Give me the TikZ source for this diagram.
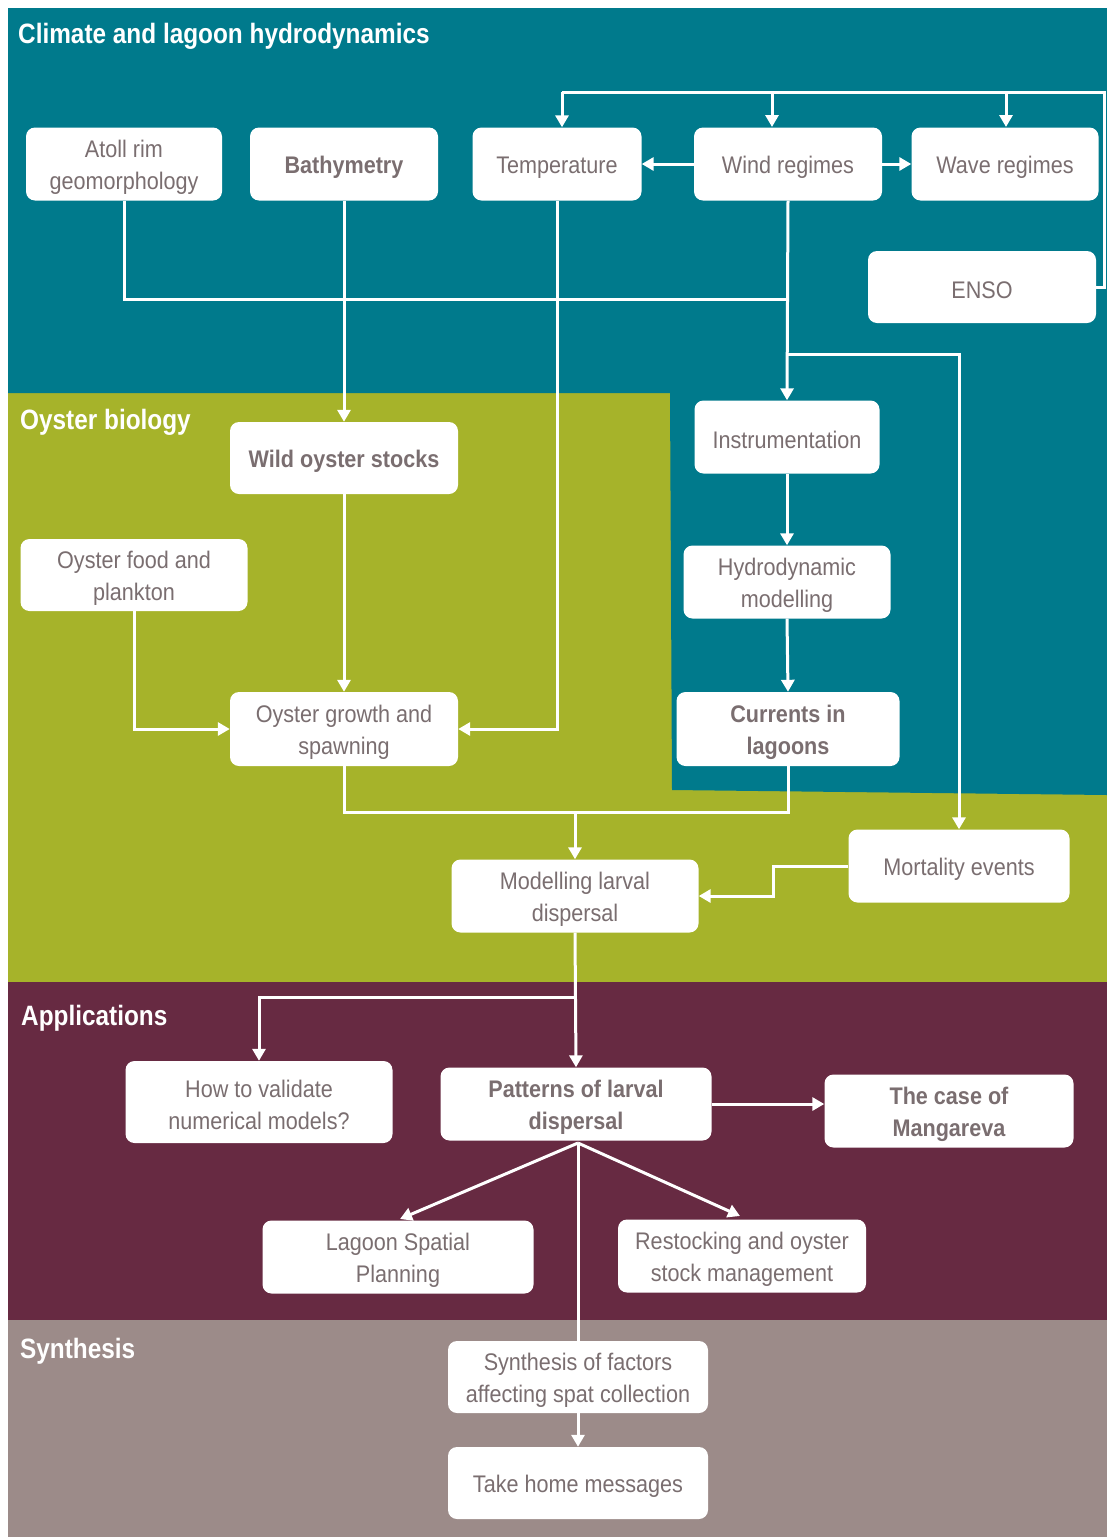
\documentclass[tikz,border=0pt]{standalone}
\usepackage{fontspec}
\setmainfont{Liberation Sans}
\newfontfamily\boxfont[FakeStretch=0.9]{Liberation Sans}
\newfontfamily\titlefont[FakeStretch=0.87]{Liberation Sans}
\usetikzlibrary{arrows.meta}
\definecolor{teal}{RGB}{0,122,140}
\definecolor{olive}{RGB}{166,179,42}
\definecolor{maroon}{RGB}{103,42,66}
\definecolor{greyb}{RGB}{156,139,137}
\definecolor{txtgrey}{RGB}{122,110,112}
\newcommand{\tstr}{\rule{0pt}{23.5pt}}
\tikzset{
  box/.style={draw=none, fill=white, rounded corners=9pt, align=center,
    text=txtgrey, font=\boxfont\fontsize{24}{32}\selectfont, inner sep=0pt},
  bbox/.style={box, font=\boxfont\bfseries\fontsize{24}{32}\selectfont},
  link/.style={draw=white, line width=3pt},
  arr/.style={link, -{Triangle[length=12pt,width=13pt]}},
  ttl/.style={anchor=west, text=white, font=\titlefont\bfseries\fontsize{28}{32}\selectfont, inner sep=0pt}
}
\begin{document}
\begin{tikzpicture}[x=1pt,y=-1pt]
\useasboundingbox (0,0) rectangle (1107,1537);
\fill[white] (0,0) rectangle (1107,1537);
% regions
\fill[olive] (8,393) rectangle (1107,983);
\fill[teal] (8,8) -- (1107,8) -- (1107,795) -- (672,790) -- (670,393) -- (8,393) -- cycle;
\fill[maroon] (8,982) rectangle (1107,1320);
\fill[greyb] (8,1320) rectangle (1107,1537);
% titles
\node[ttl] (t1) at (18,36) {Climate and lagoon hydrodynamics};
\node[ttl] (t2) at (20,422) {Oyster biology};
\node[ttl] (t3) at (21,1018) {Applications};
\node[ttl] (t4) at (20,1351) {Synthesis};
% nodes
\node[box, minimum width=196pt, minimum height=73pt] (atoll) at (124,164) {\tstr Atoll rim\\geomorphology};
\node[bbox, minimum width=188pt, minimum height=73pt] (bathy) at (344,164) {\tstr Bathymetry};
\node[box, minimum width=169pt, minimum height=73pt] (temp) at (557,164) {\tstr Temperature};
\node[box, minimum width=188pt, minimum height=73pt] (wind) at (788,164) {\tstr Wind regimes};
\node[box, minimum width=187pt, minimum height=73pt] (wave) at (1005,164) {\tstr Wave regimes};
\node[box, minimum width=228pt, minimum height=72pt] (enso) at (982,287) {\tstr ENSO};
\node[bbox, minimum width=228pt, minimum height=72pt] (wild) at (344,458) {\tstr Wild oyster stocks};
\node[box, minimum width=185pt, minimum height=73pt] (instr) at (787,437) {\tstr Instrumentation};
\node[box, minimum width=227pt, minimum height=72pt] (food) at (134,575) {\tstr Oyster food and\\plankton};
\node[box, minimum width=207pt, minimum height=73pt] (hydro) at (787,582) {\tstr Hydrodynamic\\modelling};
\node[box, minimum width=228pt, minimum height=74pt] (growth) at (344,729) {\tstr Oyster growth and\\spawning};
\node[bbox, minimum width=223pt, minimum height=74pt] (curr) at (788,729) {\tstr Currents in\\lagoons};
\node[box, minimum width=221pt, minimum height=73pt] (mort) at (959,866) {\tstr Mortality events};
\node[box, minimum width=247pt, minimum height=73pt] (model) at (575,896) {\tstr Modelling larval\\dispersal};
\node[box, minimum width=267pt, minimum height=82pt] (valid) at (259,1102) {\tstr How to validate\\numerical models?};
\node[bbox, minimum width=271pt, minimum height=73pt] (patt) at (576,1104) {\tstr Patterns of larval\\dispersal};
\node[bbox, minimum width=249pt, minimum height=73pt] (mang) at (949,1111) {\tstr The case of\\Mangareva};
\node[box, minimum width=271pt, minimum height=73pt] (lsp) at (398,1257) {\tstr Lagoon Spatial\\Planning};
\node[box, minimum width=248pt, minimum height=73pt] (rest) at (742,1256) {\tstr Restocking and oyster\\stock management};
\node[box, minimum width=260pt, minimum height=72pt] (synth) at (578,1377) {\tstr Synthesis of factors\\affecting spat collection};
\node[box, minimum width=260pt, minimum height=72pt] (take) at (578,1483) {\tstr Take home messages};
% coordinates
\coordinate (ctr) at (1104,92);
\coordinate (ctl) at (562,92);
\coordinate (j1) at (788,299);
\coordinate (j2) at (788,354);
\coordinate (jm) at (575,812);
\coordinate (jv) at (575,997);
\coordinate (pb) at (578,1143);
% connectors
\draw[link] (enso.east) -- (ctr |- enso.east) -- (ctr) -- (ctl);
\draw[arr] (ctl) -- (ctl |- temp.north);
\draw[arr] (772,92) -- (772,127);
\draw[arr] (1006,93) -- (1006,127);
\draw[arr] (wind.west) -- (temp.east);
\draw[arr] (wind.east) -- (wave.west);
\draw[link] (atoll.south) |- (j1);
\draw[arr] (wind.south) -- (instr.north);
\draw[arr] (j2) -| (mort.north);
\draw[arr] (bathy.south) -- (wild.north);
\draw[arr] (wild.south) -- (growth.north);
\draw[arr] (temp.south) |- (growth.east);
\draw[arr] (food.south) |- (growth.west);
\draw[arr] (instr.south) -- (hydro.north);
\draw[arr] (hydro.south) -- (curr.north);
\draw[link] (growth.south) |- (jm) -| (curr.south);
\draw[arr] (jm) -- (model.north);
\draw[arr] (mort.west) -- (773,866) -- (773,896) -- (model.east);
\draw[arr] (model.south) -- (patt.north);
\draw[arr] (jv) -| (valid.north);
\draw[arr] (patt.east) -- (patt.east -| mang.west);
\draw[arr] (pb) -- (400,1219);
\draw[arr] (pb) -- (740,1216);
\draw[link] (pb) -- (synth.north);
\draw[arr] (synth.south) -- (take.north);
\end{tikzpicture}
\end{document}
